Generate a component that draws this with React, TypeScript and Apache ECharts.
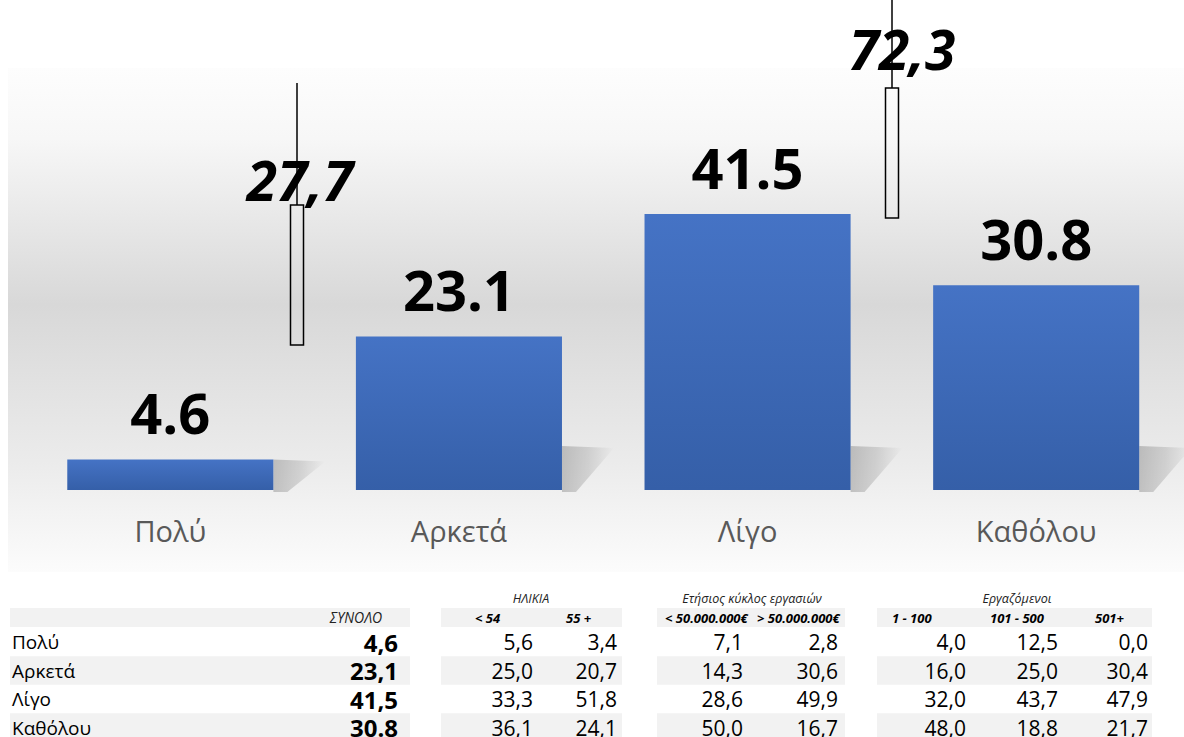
import React, { useEffect, useRef } from "react";
import * as echarts from "echarts";

const categories = ["Πολύ", "Αρκετά", "Λίγο", "Καθόλου"];
const totals = [4.6, 23.1, 41.5, 30.8];
const totalLabels = ["4,6", "23,1", "41,5", "30.8"];
const sumLabels = ["27,7", "72,3"];

const groupHeaders = ["ΗΛΙΚΙΑ", "Ετήσιος κύκλος εργασιών", "Εργαζόμενοι"];
const subHeaders = ["< 54", "55 +", "< 50.000.000€", "> 50.000.000€", "1 - 100", "101 - 500", "501+"];
const under54 = [5.6, 25.0, 33.3, 36.1];
const over55 = [3.4, 20.7, 51.8, 24.1];
const below50m = [7.1, 14.3, 28.6, 50.0];
const above50m = [2.8, 30.6, 49.9, 16.7];
const emp1to100 = [4.0, 16.0, 32.0, 48.0];
const emp101to500 = [12.5, 25.0, 43.7, 18.8];
const emp501plus = [0.0, 30.4, 47.9, 21.7];

const FONT = '"Open Sans", "Noto Sans", sans-serif';

function fmt(v: number) {
  return v.toFixed(1).replace(".", ",");
}

function txt(text: string, x: number, y: number, font: string, align = "left", fill = "#000", lh?: number) {
  const style: any = {
    text,
    x,
    y,
    font,
    fill,
    align,
    textAlign: align,
    verticalAlign: "middle",
    textVerticalAlign: "middle",
  };
  if (lh) style.lineHeight = lh;
  return { type: "text", z: 100, style };
}

function rect(x: number, y: number, w: number, h: number, fill: string) {
  return { type: "rect", z: 50, shape: { x, y, width: w, height: h }, style: { fill } };
}

export default function App() {
  const ref = useRef<HTMLDivElement>(null);

  useEffect(() => {
    document.body.style.margin = "0";
    const chart = echarts.init(ref.current!, null, { renderer: "svg" });

    const rowY = [642, 670.5, 699, 727.5];
    const rowH = 28.5;
    const blocks = [
      [10, 400],
      [441, 181],
      [657, 188],
      [877, 275],
    ];
    const valueCols: [number[], number][] = [
      [under54, 533],
      [over55, 617],
      [below50m, 743],
      [above50m, 838],
      [emp1to100, 966],
      [emp101to500, 1058],
      [emp501plus, 1148],
    ];
    const subHeaderX = [475, 566, 665, 757, 892, 990, 1095];
    const groupX = [531, 752, 1017];

    const graphics: any[] = [];
    graphics.push({
      type: "rect",
      z: -100,
      shape: { x: 8, y: 68, width: 1176, height: 504 },
      style: {
        fill: new echarts.graphic.LinearGradient(0, 0, 0, 1, [
          { offset: 0, color: "#fdfdfd" },
          { offset: 0.14, color: "#f7f7f7" },
          { offset: 0.47, color: "#d8d8d8" },
          { offset: 0.78, color: "#ebebeb" },
          { offset: 1, color: "#fcfcfc" },
        ]),
      },
    });
    const ann = [
      { lx: 297, ly1: 83, rx: 290.5, ry: 205, ry2: 345, tx: 300, ty: 179, text: sumLabels[0] },
      { lx: 892, ly1: 0, rx: 885.5, ry: 88, ry2: 218, tx: 902, ty: 48, text: sumLabels[1] },
    ];
    ann.forEach((a) => {
      graphics.push({
        type: "line",
        z: 90,
        shape: { x1: a.lx, y1: a.ly1, x2: a.lx, y2: a.ry },
        style: { stroke: "#000", lineWidth: 1.5 },
      });
      graphics.push({
        type: "rect",
        z: 90,
        shape: { x: a.rx, y: a.ry, width: 13, height: a.ry2 - a.ry },
        style: { fill: "none", stroke: "#000", lineWidth: 1.5 },
      });
      graphics.push(txt(a.text, a.tx, a.ty, `italic bold 55px ${FONT}`, "center"));
    });

    blocks.forEach(([x, w]) => {
      graphics.push(rect(x, 608, w, 19, "#f2f2f2"));
      graphics.push(rect(x, rowY[1] - rowH / 2, w, rowH, "#f2f2f2"));
      graphics.push(rect(x, rowY[3] - rowH / 2, w, rowH + 4, "#f2f2f2"));
    });
    groupHeaders.forEach((g, i) => graphics.push(txt(g, groupX[i], 598, `italic 12.5px ${FONT}`, "center", "#222")));
    graphics.push(txt("ΣΥΝΟΛΟ", 356, 617.5, `italic 14px ${FONT}`, "center", "#222"));
    subHeaders.forEach((s, i) => graphics.push(txt(s, subHeaderX[i], 617.5, `italic bold 13px ${FONT}`, "left", "#000")));
    categories.forEach((c, r) => {
      graphics.push(txt(c, 12, rowY[r], `19px ${FONT}`, "left", "#000", 22));
      graphics.push(txt(totalLabels[r], 398, rowY[r], `bold 24px ${FONT}`, "right", "#000", 24));
      valueCols.forEach(([arr, x]) => graphics.push(txt(fmt(arr[r]), x, rowY[r], `21px ${FONT}`, "right", "#000", 22)));
    });

    chart.setOption({
      animation: false,
      backgroundColor: "#ffffff",
      grid: { left: 26, right: 3.5, top: 91, bottom: 247 },
      xAxis: {
        type: "category",
        data: categories,
        axisLine: { show: false },
        axisTick: { show: false },
        axisLabel: { color: "#595959", fontSize: 29, fontFamily: FONT, margin: 26 },
      },
      yAxis: { type: "value", min: 0, max: 60, show: false, splitLine: { show: false } },
      series: [
        {
          type: "custom",
          z: 1,
          silent: true,
          data: totals.map((v, i) => [i, v]),
          renderItem: (params: any, api: any) => {
            const i = api.value(0);
            const v = api.value(1);
            const base = api.coord([i, 0]);
            const top = api.coord([i, v]);
            const bw = api.size([1, 0])[0] * 0.714;
            const xr = base[0] + bw / 2;
            const h = Math.min(44, base[1] - top[1]);
            return {
              type: "polygon",
              shape: {
                points: [
                  [xr, base[1] - h],
                  [xr + 52, base[1] - h + 2],
                  [xr + 14, base[1] + 2],
                  [xr, base[1] + 2],
                ],
              },
              style: {
                fill: new echarts.graphic.LinearGradient(0, 0, 1, 0, [
                  { offset: 0, color: "rgba(0,0,0,0.20)" },
                  { offset: 0.5, color: "rgba(0,0,0,0.12)" },
                  { offset: 1, color: "rgba(0,0,0,0)" },
                ]),
              },
            };
          },
        },
        {
          type: "bar",
          z: 2,
          data: totals,
          barCategoryGap: "28.6%",
          itemStyle: {
            color: new echarts.graphic.LinearGradient(0, 0, 0, 1, [
              { offset: 0, color: "#4573c5" },
              { offset: 1, color: "#355fa8" },
            ]),
          },
          label: {
            show: true,
            position: "top",
            distance: 19,
            color: "#000",
            fontSize: 56,
            fontWeight: "bold",
            fontFamily: FONT,
            formatter: (p: any) => p.value.toFixed(1),
          },
        },
      ],
      graphic: { elements: graphics },
    });

    return () => chart.dispose();
  }, []);

  return <div ref={ref} style={{ width: 1184, height: 737 }} />;
}
